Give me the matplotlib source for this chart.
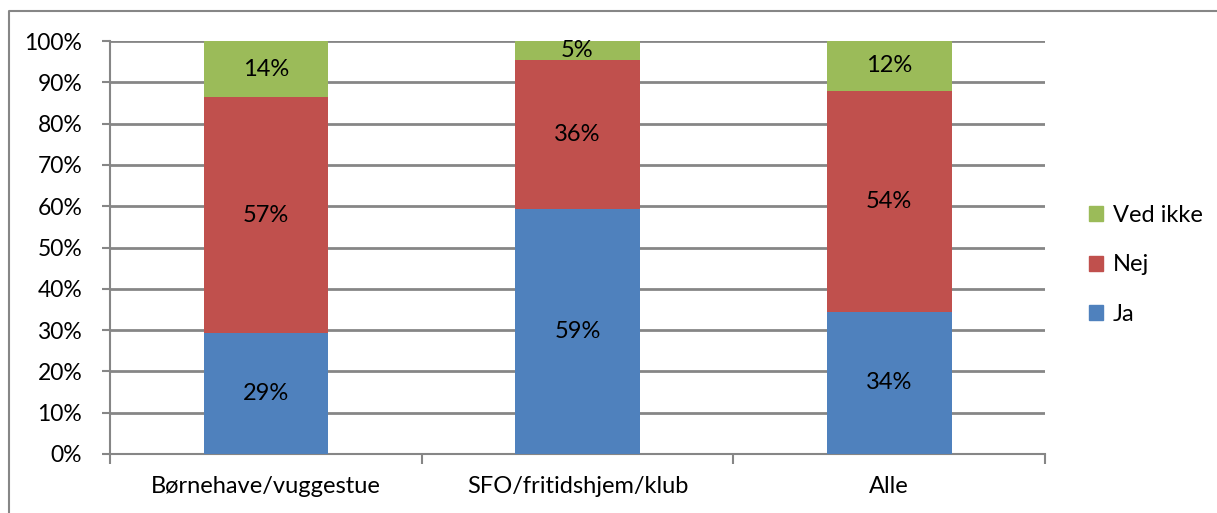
import matplotlib.pyplot as plt
from matplotlib.lines import Line2D
from matplotlib.patches import Patch
import numpy as np

plt.rcParams['font.family'] = ['Lato', 'DejaVu Sans']

categories = ['Børnehave/vuggestue', 'SFO/fritidshjem/klub', 'Alle']
ja = [29.3, 59.3, 34.4]
nej = [57.1, 36.1, 53.6]
ved_ikke = [13.6, 4.6, 12.0]
series_names = ['Ja', 'Nej', 'Ved ikke']
colors = ['#4F81BD', '#C0504D', '#9BBB59']
yticks = [0, 10, 20, 30, 40, 50, 60, 70, 80, 90, 100]

fig = plt.figure(figsize=(12.17, 5.13), dpi=100)
ax = fig.add_axes([110 / 1217, 59 / 513, 935 / 1217, 413 / 513])

x = np.arange(len(categories))
bottom = np.zeros(len(categories))
for vals, name, col in zip([ja, nej, ved_ikke], series_names, colors):
    ax.bar(x, vals, 0.4, bottom=bottom, color=col, label=name, zorder=3)
    for xi, b, v in zip(x, bottom, vals):
        ax.text(xi, b + v / 2, '%d%%' % round(v), ha='center', va='center',
                fontsize=17, color='black', zorder=4)
    bottom = bottom + np.array(vals)

ax.set_xlim(-0.5, 2.5)
ax.set_ylim(0, 100)
ax.set_yticks(yticks)
ax.set_yticklabels(['%d%%' % t for t in yticks], fontsize=16.5)
ax.yaxis.grid(True, color='#868686', linewidth=2, zorder=0)
ax.tick_params(axis='y', length=6, width=1.5, color='#868686', pad=14)

ax.set_xticks(x)
ax.set_xticklabels(categories, fontsize=17)
ax.tick_params(axis='x', which='major', length=0, pad=16)
ax.set_xticks([-0.5, 0.5, 1.5, 2.5], minor=True)
ax.tick_params(axis='x', which='minor', length=7, width=1.5, color='#868686')

for s in ['top', 'right']:
    ax.spines[s].set_visible(False)
for s in ['left', 'bottom']:
    ax.spines[s].set_color('#868686')
    ax.spines[s].set_linewidth(1.5)

handles = [Patch(color=c) for c in colors][::-1]
fig.legend(handles, series_names[::-1], loc='center left',
           bbox_to_anchor=(1068 / 1217, 1 - 265 / 513), frameon=False,
           fontsize=17, handlelength=0.6, handleheight=0.6,
           handletextpad=0.4, labelspacing=1.2)

# outer chart frame
fig.add_artist(Line2D([9 / 1217, 9 / 1217, 1], [0, 1 - 11 / 513, 1 - 11 / 513],
                      color='#868686', linewidth=1.5, transform=fig.transFigure))

fig.savefig('out.png', dpi=100)
